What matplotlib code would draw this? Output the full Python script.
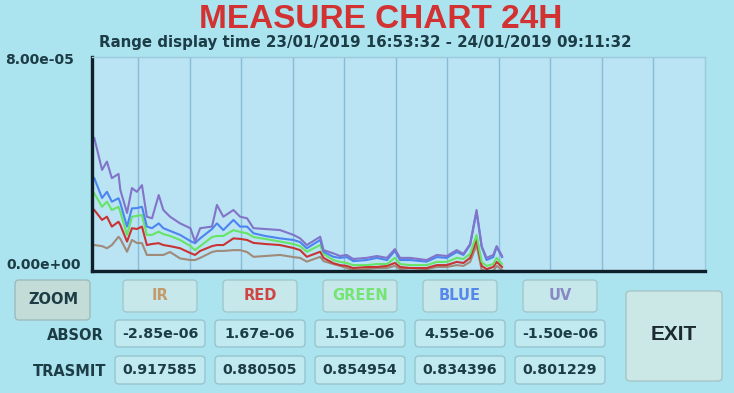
import matplotlib
matplotlib.use("Agg")
import matplotlib.pyplot as plt
from matplotlib.patches import FancyBboxPatch

# tiempo en horas dentro de la ventana de 24h
hours = [0.29, 0.59, 0.78, 0.97, 1.23, 1.30, 1.56, 1.75, 1.94, 2.14, 2.33, 2.53, 2.79, 2.97,
         3.23, 3.62, 4.02, 4.20, 4.40, 4.86, 5.05, 5.30, 5.69, 5.95, 6.22, 6.47, 6.92, 7.50,
         8.02, 8.28, 8.54, 9.06, 9.19, 9.57, 9.83, 10.09, 10.34, 10.86, 11.26, 11.65, 11.96,
         12.16, 12.55, 13.19, 13.59, 13.97, 14.36, 14.62, 14.88, 15.13, 15.33, 15.52, 15.78,
         15.91, 16.12]

# absorbancias (x 1e-5)
uv = [4.97, 3.78, 4.09, 3.47, 3.63, 3.03, 2.17, 3.10, 2.96, 3.21, 2.03, 1.97, 2.84, 2.28,
      2.03, 1.78, 1.60, 1.10, 1.60, 1.66, 2.47, 2.03, 2.28, 2.03, 1.97, 1.60, 1.57, 1.53,
      1.35, 1.22, 0.97, 1.28, 0.78, 0.66, 0.56, 0.60, 0.45, 0.49, 0.56, 0.49, 0.82,
      0.49, 0.49, 0.41, 0.60, 0.56, 0.78, 0.64, 1.01, 2.28, 0.93, 0.49, 0.60, 0.93, 0.56]
blue = [3.47, 2.73, 2.96, 2.59, 2.72, 2.54, 1.66, 2.34, 2.35, 2.40, 1.66, 1.60, 1.78, 1.60,
        1.50, 1.35, 1.12, 1.04, 1.22, 1.57, 1.78, 1.53, 1.91, 1.66, 1.66, 1.41, 1.31, 1.22,
        1.16, 1.08, 0.85, 1.16, 0.72, 0.53, 0.49, 0.52, 0.37, 0.41, 0.49, 0.41, 0.75,
        0.41, 0.41, 0.35, 0.52, 0.49, 0.71, 0.60, 0.97, 2.21, 0.90, 0.41, 0.52, 0.90, 0.52]
green = [2.90, 2.40, 2.59, 2.28, 2.40, 2.21, 1.35, 2.03, 2.06, 2.09, 1.35, 1.35, 1.47, 1.38,
         1.31, 1.16, 0.93, 0.78, 0.93, 1.27, 1.31, 1.31, 1.53, 1.46, 1.41, 1.27, 1.20, 1.10,
         1.01, 0.93, 0.72, 0.97, 0.64, 0.41, 0.34, 0.30, 0.22, 0.22, 0.26, 0.26, 0.49,
         0.26, 0.22, 0.22, 0.34, 0.34, 0.49, 0.45, 0.64, 1.35, 0.34, 0.19, 0.26, 0.49, 0.26]
red = [2.28, 1.91, 2.03, 1.66, 1.84, 1.72, 1.10, 1.60, 1.57, 1.66, 0.97, 1.01, 1.04, 0.97,
       0.93, 0.85, 0.67, 0.60, 0.75, 0.93, 0.97, 0.97, 1.22, 1.20, 1.16, 1.05, 1.01, 0.97,
       0.86, 0.78, 0.53, 0.72, 0.49, 0.29, 0.22, 0.19, 0.11, 0.15, 0.15, 0.19, 0.30,
       0.15, 0.11, 0.11, 0.22, 0.22, 0.34, 0.30, 0.49, 1.16, 0.19, 0.07, 0.15, 0.34, 0.15]
ir = [0.97, 0.93, 0.85, 0.97, 1.28, 1.20, 0.72, 1.16, 1.05, 1.04, 0.60, 0.60, 0.60, 0.60,
      0.71, 0.47, 0.41, 0.41, 0.49, 0.71, 0.75, 0.75, 0.78, 0.78, 0.71, 0.53, 0.56, 0.60,
      0.52, 0.49, 0.35, 0.53, 0.37, 0.26, 0.19, 0.11, 0.04, 0.07, 0.11, 0.11, 0.19,
      0.07, 0.11, 0.07, 0.15, 0.15, 0.22, 0.19, 0.34, 0.97, 0.04, 0.00, 0.00, 0.19, 0.04]

channels = ['IR', 'RED', 'GREEN', 'BLUE', 'UV']
absor = ['-2.85e-06', '1.67e-06', '1.51e-06', '4.55e-06', '-1.50e-06']
trasmit = ['0.917585', '0.880505', '0.854954', '0.834396', '0.801229']
ytick_labels = ['0.00e+00', '8.00e-05']

BG = '#abe3ef'
PLOT_BG = '#bae3f4'
GRID = '#88bcd6'
TXT = '#1c3c46'
line_colors = {'IR': '#a08a7a', 'RED': '#c83434', 'GREEN': '#66e466',
               'BLUE': '#4c84f0', 'UV': '#8274c8'}
label_colors = {'IR': '#c49a6a', 'RED': '#d04444', 'GREEN': '#74e474',
                'BLUE': '#5688ec', 'UV': '#8888c4'}

W, H = 734, 393
fig = plt.figure(figsize=(W / 100, H / 100), dpi=100)
fig.set_facecolor(BG)


def fx(px):
    return px / W


def fy(py):
    return 1 - py / H


def box(x0, y0, x1, y1, fc, ec, r=5, lw=1.0):
    p = FancyBboxPatch((x0 / 100, (H - y1) / 100), (x1 - x0) / 100, (y1 - y0) / 100,
                       boxstyle=f"round,pad=0,rounding_size={r / 100}",
                       transform=fig.dpi_scale_trans, fc=fc, ec=ec, lw=lw)
    fig.patches.append(p)


# titulos
fig.text(fx(381), fy(20), 'MEASURE CHART 24H', color='#d23232', fontsize=24,
         fontweight='bold', family='Liberation Sans', ha='center', va='center')
fig.text(fx(365), fy(42), 'Range display time 23/01/2019 16:53:32 - 24/01/2019 09:11:32',
         color=TXT, fontsize=10.8, fontweight='bold', ha='center', va='center')

# grafico
ax = fig.add_axes([fx(92), fy(271), fx(705) - fx(92), (271 - 57) / H])
ax.set_facecolor(PLOT_BG)
scale = 1e-5
series = [('IR', ir), ('RED', red), ('GREEN', green), ('BLUE', blue), ('UV', uv)]
for name, vals in series:
    ax.plot(hours, [v * scale for v in vals], color=line_colors[name], lw=1.5)

ax.set_xlim(0.2, 24)
ax.set_ylim(0, 8e-5)
ax.set_xticks(range(2, 24, 2))
ax.set_xticklabels([])
ax.grid(True, axis='x', color=GRID, lw=1.0)
ax.set_yticks([])
ax.tick_params(length=0, axis='x')
for s in ['left', 'bottom']:
    ax.spines[s].set_color('#10202a')
    ax.spines[s].set_linewidth(2.4)
for s in ['top', 'right']:
    ax.spines[s].set_color('#9ccadc')
    ax.spines[s].set_linewidth(1.0)

# etiquetas del eje y
fig.text(fx(5), fy(60), ytick_labels[1], color=TXT, fontsize=10, fontweight='bold',
         ha='left', va='center')
fig.text(fx(6), fy(265), ytick_labels[0], color=TXT, fontsize=10, fontweight='bold',
         ha='left', va='center')

# botones
box(15, 280, 90, 320, '#c4dcd8', '#9cbcbc', r=4)
fig.text(fx(53), fy(299), 'ZOOM', color=TXT, fontsize=10.5, fontweight='bold',
         ha='center', va='center')

centers = [160, 260, 360, 460, 560]
for cx, name, a, t in zip(centers, channels, absor, trasmit):
    box(cx - 37, 280, cx + 37, 312, '#c6e8ea', '#a2c8cc', r=4)
    fig.text(fx(cx), fy(296), name, color=label_colors[name], fontsize=10.5,
             fontweight='bold', ha='center', va='center')
    box(cx - 45, 320, cx + 45, 347, '#c0eaf0', '#98c4cc', r=4)
    fig.text(fx(cx), fy(334), a, color=TXT, fontsize=10.3, fontweight='bold',
             ha='center', va='center')
    box(cx - 45, 356, cx + 45, 384, '#c0eaf0', '#98c4cc', r=4)
    fig.text(fx(cx), fy(370), t, color=TXT, fontsize=10.3, fontweight='bold',
             ha='center', va='center')

fig.text(fx(104), fy(335), 'ABSOR', color=TXT, fontsize=10.5, fontweight='bold',
         ha='right', va='center')
fig.text(fx(106), fy(371), 'TRASMIT', color=TXT, fontsize=10.5, fontweight='bold',
         ha='right', va='center')

box(626, 291, 722, 381, '#cce8e6', '#a6c6c6', r=4)
fig.text(fx(674), fy(335), 'EXIT', color='#1a2a30', fontsize=15, fontweight='bold',
         family='Liberation Sans', ha='center', va='center')

fig.savefig('out.png', dpi=100, facecolor=BG)
